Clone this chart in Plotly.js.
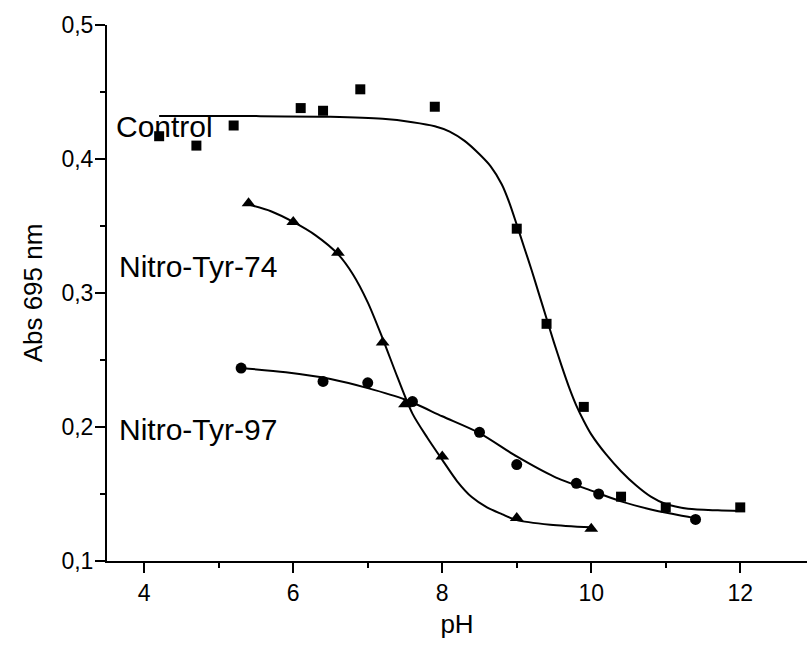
<!DOCTYPE html>
<html>
<head>
<meta charset="utf-8">
<script src="https://cdn.plot.ly/plotly-3.0.1.min.js"></script>
<style>html,body{margin:0;padding:0;background:#fff;}#chart{width:807px;height:648px;}</style>
</head>
<body>
<div id="chart"></div>
<script>
// Measured points
var controlX = [4.2, 4.7, 5.2, 6.1, 6.4, 6.9, 7.9, 9.0, 9.4, 9.9, 10.4, 11.0, 12.0];
var controlY = [0.417, 0.410, 0.425, 0.438, 0.436, 0.452, 0.439, 0.348, 0.277, 0.215, 0.148, 0.140, 0.140];
var tyr74X = [5.4, 6.0, 6.6, 7.2, 7.5, 8.0, 9.0, 10.0];
var tyr74Y = [0.367, 0.353, 0.330, 0.263, 0.217, 0.178, 0.132, 0.124];
var tyr97X = [5.3, 6.4, 7.0, 7.6, 8.5, 9.0, 9.8, 10.1, 11.4];
var tyr97Y = [0.244, 0.234, 0.233, 0.219, 0.196, 0.172, 0.158, 0.150, 0.131];

// Fitted curves
var controlFitX = [4.2, 5.5, 6.5, 7.2, 7.6, 7.9, 8.1, 8.3, 8.5, 8.65, 8.8, 8.9, 9.0, 9.1, 9.2, 9.3, 9.4, 9.5, 9.6, 9.7, 9.8, 9.9, 10.0, 10.2, 10.4, 10.6, 10.8, 11.0, 11.3, 11.7, 12.0];
var controlFitY = [0.432, 0.432, 0.4315, 0.430, 0.4275, 0.4245, 0.4205, 0.4135, 0.4035, 0.3945, 0.381, 0.3675, 0.351, 0.334, 0.317, 0.299, 0.281, 0.263, 0.246, 0.230, 0.216, 0.2045, 0.1945, 0.1795, 0.167, 0.1565, 0.148, 0.1425, 0.139, 0.1378, 0.1373];
var tyr74FitX = [5.4, 5.7, 6.0, 6.3, 6.6, 6.8, 7.0, 7.2, 7.4, 7.6, 7.8, 8.0, 8.2, 8.4, 8.6, 8.8, 9.0, 9.45, 10.0];
var tyr74FitY = [0.366, 0.361, 0.353, 0.343, 0.329, 0.314, 0.293, 0.266, 0.237, 0.210, 0.192, 0.1755, 0.1595, 0.1475, 0.140, 0.135, 0.1305, 0.1271, 0.1251];
var tyr97FitX = [5.3, 5.9, 6.5, 7.0, 7.5, 8.0, 8.5, 9.0, 9.5, 10.0, 10.4, 10.8, 11.1, 11.4];
var tyr97FitY = [0.244, 0.2408, 0.2358, 0.229, 0.2205, 0.208, 0.1955, 0.178, 0.163, 0.1525, 0.1445, 0.1385, 0.135, 0.1318];

// Labels
var labelText = ["Control", "Nitro-Tyr-74", "Nitro-Tyr-97"];
var labelX = [3.6, 3.64, 3.64];
var labelY = [0.424, 0.3196, 0.198];
var xTicks = [4, 6, 8, 10, 12];
var yTicks = [0.1, 0.2, 0.3, 0.4, 0.5];

var FONT = "Arial, 'Liberation Sans', sans-serif";
var lineStyle = {color: "black", width: 2, shape: "spline", smoothing: 0.8};

var traces = [
  {x: controlFitX, y: controlFitY, mode: "lines", line: lineStyle, hoverinfo: "skip"},
  {x: tyr74FitX, y: tyr74FitY, mode: "lines", line: lineStyle, hoverinfo: "skip"},
  {x: tyr97FitX, y: tyr97FitY, mode: "lines", line: lineStyle, hoverinfo: "skip"},
  {x: controlX, y: controlY, mode: "markers", marker: {symbol: "square", size: 10, color: "black"}},
  {x: tyr74X, y: tyr74Y, mode: "markers", marker: {symbol: "triangle-up", size: 12, color: "black"}},
  {x: tyr97X, y: tyr97Y, mode: "markers", marker: {symbol: "circle", size: 11, color: "black"}}
];

var annotations = labelText.map(function (t, i) {
  return {x: labelX[i], y: labelY[i], xref: "x", yref: "y", text: t, showarrow: false,
          xanchor: "left", yanchor: "middle", font: {family: FONT, size: 30, color: "black"}};
});

var layout = {
  width: 807, height: 648,
  margin: {l: 107, r: 0, t: 25, b: 87, pad: 0},
  paper_bgcolor: "white", plot_bgcolor: "white",
  showlegend: false,
  separators: ",.",
  font: {family: FONT, color: "black"},
  xaxis: {
    range: [3.5, 12.896], showgrid: false, zeroline: false,
    showline: true, linecolor: "black", linewidth: 2,
    ticks: "outside", ticklen: 10, tickwidth: 2, tickcolor: "black",
    tickvals: xTicks, ticktext: xTicks.map(String),
    tickfont: {family: FONT, size: 23, color: "black"},
    ticklabelstandoff: 0,
    minor: {tickvals: [5, 7, 9, 11], ticks: "outside", ticklen: 5, tickwidth: 2, tickcolor: "black", showgrid: false},
    title: {text: "pH", font: {family: FONT, size: 26, color: "black"}, standoff: 10}
  },
  yaxis: {
    range: [0.1, 0.5], showgrid: false, zeroline: false,
    showline: true, linecolor: "black", linewidth: 2,
    ticks: "outside", ticklen: 10, tickwidth: 2, tickcolor: "black",
    tickvals: yTicks, tickformat: ".1f",
    tickfont: {family: FONT, size: 23, color: "black"},
    ticklabelstandoff: -3,
    minor: {tickvals: [0.15, 0.25, 0.35, 0.45], ticks: "outside", ticklen: 5, tickwidth: 2, tickcolor: "black", showgrid: false},
    title: {text: "Abs 695 nm", font: {family: FONT, size: 26, color: "black"}, standoff: 11}
  },
  annotations: annotations
};

Plotly.newPlot("chart", traces, layout, {staticPlot: true, displayModeBar: false});
</script>
</body>
</html>
